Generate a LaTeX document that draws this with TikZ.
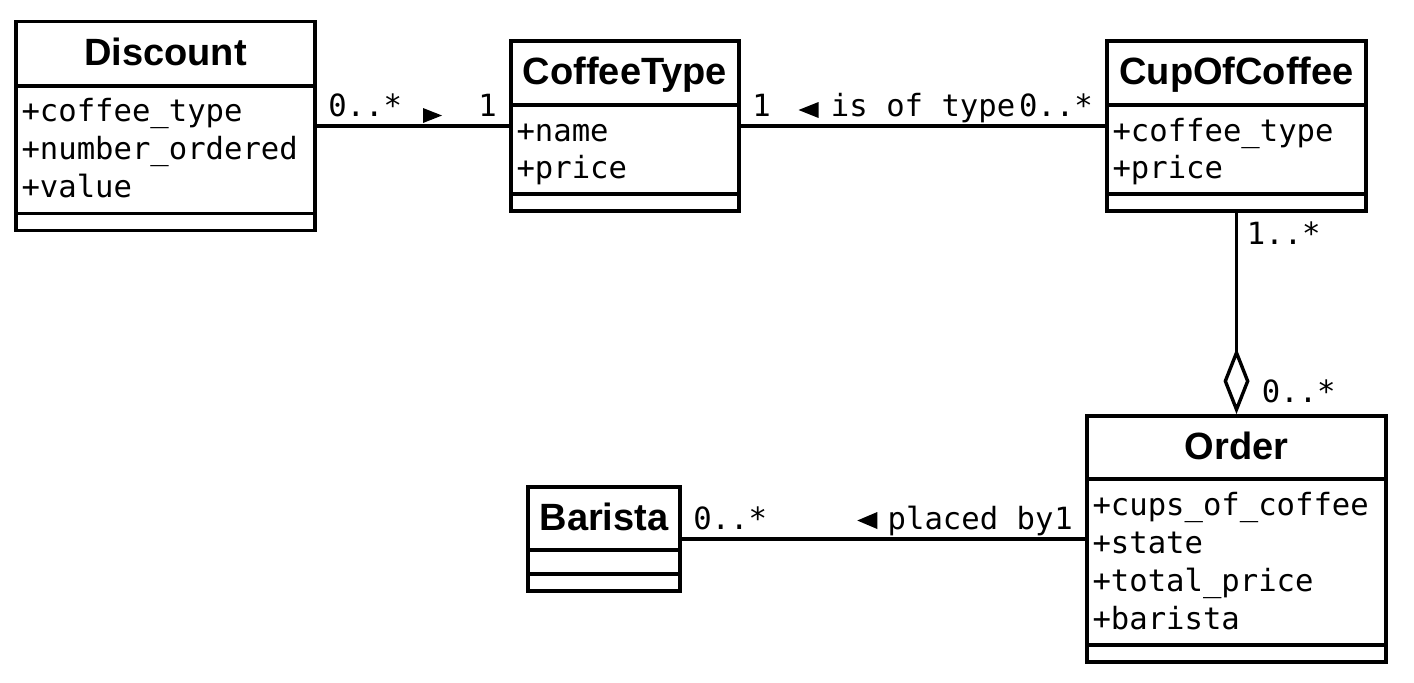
\documentclass[tikz,border=0pt]{standalone}
\usepackage{fontspec}
\setmainfont{Liberation Sans}
\newfontfamily\umlmono{DejaVu Sans Mono}
\usepackage{tikz}
\usetikzlibrary{calc}
\usetikzlibrary{arrows.meta}
\usetikzlibrary{positioning}

\newcommand{\classfont}{\fontsize{19pt}{22pt}\selectfont\bfseries}
\newcommand{\attrfont}{\fontsize{15.3pt}{19pt}\selectfont\umlmono}

\tikzset{
  classbox/.style={draw, line width=1.9pt, inner sep=0pt, fill=white},
  classname/.style={font=\classfont, inner sep=0pt, anchor=base},
  attribute/.style={font=\attrfont, inner sep=0pt, anchor=base west},
  multiplicity/.style={font=\attrfont, inner sep=0pt},
  compartment/.style={line width=1.9pt},
  association/.style={line width=1.7pt},
  aggregation/.style={line width=1.7pt, -{Diamond[open, length=33pt, width=13pt]}},
}

\begin{document}
\begin{tikzpicture}[x=0.5pt, y=-0.5pt]
  % Frame to fix the page size
  \useasboundingbox (0,0) rectangle (1414,682);

  % Classes
  \node[classbox, minimum width=149.5pt, minimum height=104.5pt] (discount)    at (165.5,126)  {};
  \node[classbox, minimum width=114pt,   minimum height=85pt]    (coffeetype)  at (625,126)    {};
  \node[classbox, minimum width=129.5pt, minimum height=85pt]    (cupofcoffee) at (1236.5,126) {};
  \node[classbox, minimum width=149.5pt, minimum height=123pt]   (order)       at (1236.5,539) {};
  \node[classbox, minimum width=76pt,    minimum height=52pt]    (barista)     at (604,539)    {};

  % Compartment lines
  \foreach \cls/\sep in {discount/66, coffeetype/66, cupofcoffee/66, order/65, barista/65} {
    \draw[compartment] ($(\cls.north west)+(0,\sep)$) -- ($(\cls.north east)+(0,\sep)$);
    \draw[compartment] ($(\cls.south west)+(0,-19)$) -- ($(\cls.south east)+(0,-19)$);
  }

  % Class names
  \node[classname] (discount-name)    at ($(discount.north)+(0,46)$)    {Discount};
  \node[classname] (coffeetype-name)  at ($(coffeetype.north)+(0,45)$)    {CoffeeType};
  \node[classname] (cupofcoffee-name) at ($(cupofcoffee.north)+(0,45)$)   {CupOfCoffee};
  \node[classname] (order-name)       at ($(order.north)+(0,45)$)         {Order};
  \node[classname] (barista-name)     at ($(barista.north)+(0,45)$)       {Barista};

  % Attributes
  \foreach \a [count=\i] in {+coffee\_type, +number\_ordered, +value}
    \node[attribute] (discount-attr\i) at ($(discount.north west)+(7,{102+38*(\i-1)})$) {\a};
  \foreach \a [count=\i] in {+name, +price}
    \node[attribute] (coffeetype-attr\i) at ($(coffeetype.north west)+(7,{102+37*(\i-1)})$) {\a};
  \foreach \a [count=\i] in {+coffee\_type, +price}
    \node[attribute] (cupofcoffee-attr\i) at ($(cupofcoffee.north west)+(7,{102+37*(\i-1)})$) {\a};
  \foreach \a [count=\i] in {+cups\_of\_coffee, +state, +total\_price, +barista}
    \node[attribute] (order-attr\i) at ($(order.north west)+(7,{101+38*(\i-1)})$) {\a};

  % Associations
  \draw[association] (discount) -- (coffeetype);
  \draw[association] (coffeetype) -- (cupofcoffee);
  \draw[aggregation] (cupofcoffee) -- (order);
  \draw[association] (barista) -- (order);

  % Discount -- CoffeeType
  \node[multiplicity, anchor=base west] (discount-mult)   at ($(discount.east)+(11,-10)$)   {0..*};
  \node[multiplicity, anchor=base east] (coffeetype-mult) at ($(coffeetype.west)+(-12,-10)$) {1};
  \coordinate (discount-dir) at ($(discount.east)!0.5!(coffeetype.west)$);
  \fill ($(discount-dir)+(10,-18)$) -- ($(discount-dir)+(29,-10.5)$) -- ($(discount-dir)+(10,-3)$) -- cycle;

  % CoffeeType -- CupOfCoffee
  \node[multiplicity, anchor=base west] (type-mult) at ($(coffeetype.east)+(11,-10)$)   {1};
  \node[multiplicity, anchor=base east] (cup-mult)  at ($(cupofcoffee.west)+(-12,-10)$) {0..*};
  \node[multiplicity, anchor=base east] (isoftype)  at ($(cup-mult.base west)+(-3,0)$)  {is of type};
  \fill ($(isoftype.base west)+(-12,-14)$) -- ($(isoftype.base west)+(-32,-6)$) -- ($(isoftype.base west)+(-12,2)$) -- cycle;

  % CupOfCoffee -- Order
  \node[multiplicity, anchor=base west] (cup-order-mult) at ($(cupofcoffee.south)+(10,32)$) {1..*};
  \node[multiplicity, anchor=base west] (order-cup-mult) at ($(order.north)+(25,-12)$)      {0..*};

  % Barista -- Order
  \node[multiplicity, anchor=base west] (barista-mult) at ($(barista.east)+(11,-10)$) {0..*};
  \node[multiplicity, anchor=base east] (order-mult)   at ($(order.west)+(-12,-10)$)  {1};
  \node[multiplicity, anchor=base east] (placedby)     at (order-mult.base west)      {placed by};
  \fill ($(placedby.base west)+(-10,-17)$) -- ($(placedby.base west)+(-30,-8.5)$) -- ($(placedby.base west)+(-10,0)$) -- cycle;
\end{tikzpicture}
\end{document}
